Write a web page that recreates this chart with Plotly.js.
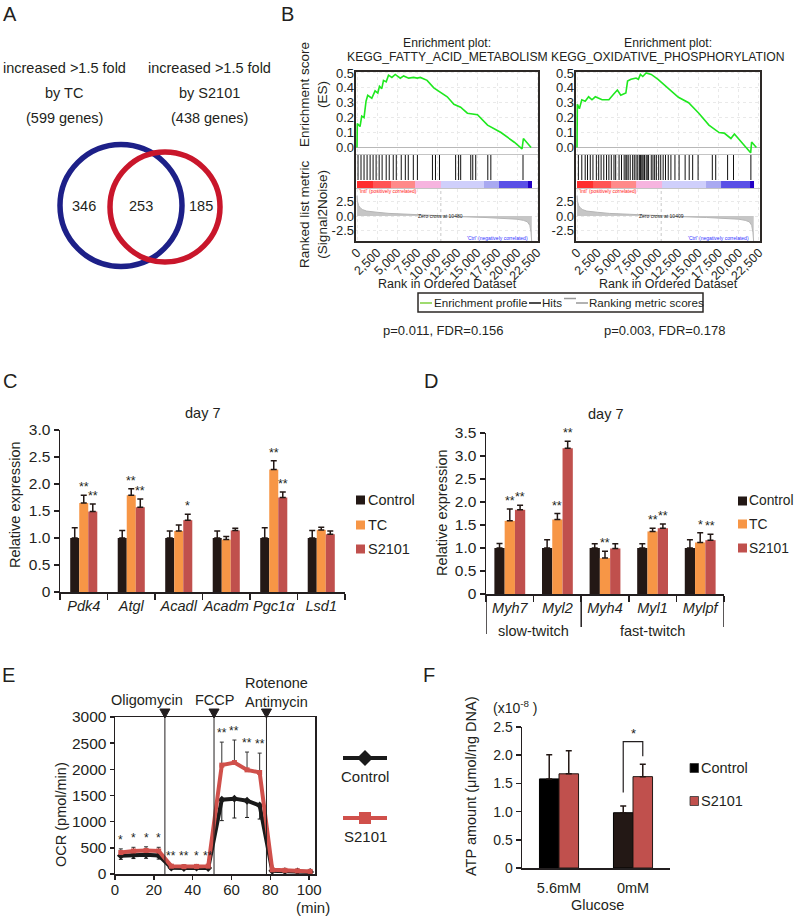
<!DOCTYPE html>
<html><head><meta charset="utf-8">
<script src="https://cdn.plot.ly/plotly-3.0.1.min.js"></script>
<style>html,body{margin:0;padding:0;background:#fff;}#chart{width:796px;height:917px;}</style>
</head><body><div id="chart"></div>
<script>
// ---------------- DATA ----------------
// Panel A (Venn)
const vennLeftLabel = ['increased >1.5 fold', 'by TC', '(599 genes)'];
const vennRightLabel = ['increased >1.5 fold', 'by S2101', '(438 genes)'];
const vennCounts = ['346', '253', '185'];

// Panel B (GSEA)
const gseaTitles = ['KEGG_FATTY_ACID_METABOLISM', 'KEGG_OXIDATIVE_PHOSPHORYLATION'];
const gseaStats = ['p=0.011, FDR=0.156', 'p=0.003, FDR=0.178'];
const zeroCross = [10480, 10409];
const faRank = [0, 40, 380, 590, 880, 1130, 1340, 1850, 2260, 2600, 2810, 3100, 3310, 3650, 3940, 4360, 4780, 5410, 5830, 6460, 7080, 7510, 7920, 8760, 9600, 10500, 11280, 12110, 12950, 13800, 15060, 16320, 18000, 19660, 20630, 20800, 21760];
const faES = [0, 0.16, 0.14, 0.21, 0.20, 0.31, 0.35, 0.33, 0.38, 0.365, 0.41, 0.395, 0.45, 0.44, 0.485, 0.47, 0.49, 0.465, 0.48, 0.465, 0.47, 0.465, 0.47, 0.45, 0.40, 0.37, 0.34, 0.29, 0.27, 0.23, 0.22, 0.15, 0.10, 0.035, -0.01, 0.06, 0.0];
const faHits = [130, 500, 880, 1260, 1640, 2010, 2390, 2770, 3140, 3650, 4030, 4530, 4910, 5530, 6040, 6410, 7040, 7550, 9430, 9810, 10310, 12330, 12700, 12960, 14220, 14470, 14840, 16350, 16730, 20750];
const oxRank = [0, 20, 40, 290, 590, 1010, 1430, 1850, 2260, 3100, 3940, 4570, 4990, 5410, 6040, 6250, 6670, 7300, 7590, 7840, 8130, 8550, 9180, 10020, 11280, 12540, 13800, 15060, 16310, 17570, 18200, 18620, 19030, 19460, 20500, 21470, 21590, 22180];
const oxES = [0, 0.19, 0.29, 0.26, 0.32, 0.31, 0.34, 0.32, 0.34, 0.32, 0.32, 0.36, 0.385, 0.35, 0.365, 0.445, 0.457, 0.466, 0.457, 0.49, 0.476, 0.50, 0.49, 0.457, 0.397, 0.337, 0.30, 0.23, 0.15, 0.10, 0.096, 0.077, 0.06, 0.09, 0.024, -0.036, 0.036, 0.0];
const oxHits = [170, 590, 1010, 1300, 1640, 1970, 2390, 2680, 2980, 3310, 3650, 3940, 4240, 4570, 4780, 5200, 5500, 5830, 6040, 6160, 6330, 6580, 6880, 7080, 7300, 7510, 7710, 7840, 7920, 8050, 8180, 8340, 8550, 8680, 8850, 9180, 9390, 9600, 9810, 10100, 10350, 10650, 10940, 11280, 11610, 12110, 12620, 13370, 13870, 14300, 14970, 16730, 17150, 18620, 19350, 21500];
const metricRank = [0, 50, 200, 400, 700, 1200, 2500, 4000, 6500, 8500, 10480, 13000, 16000, 18500, 20000, 20800, 21300, 21600, 21750, 21850];
const metricValue = [3.5, 2.6, 1.8, 1.4, 1.1, 0.85, 0.65, 0.45, 0.3, 0.15, 0, -0.12, -0.25, -0.4, -0.55, -0.75, -1.0, -1.6, -2.8, -4.6];
const colorBarEdges = [0, 2000, 4200, 7300, 10450, 15900, 17800, 21400, 21900];
const colorBarValues = [1, 0.85, 0.6, 0.3, -0.3, -0.5, -0.75, -1];

// Panel C
const cCats = ['Pdk4', 'Atgl', 'Acadl', 'Acadm', 'Pgc1α', 'Lsd1'];
const cControl = [1, 1, 1, 1, 1, 1];
const cControlErr = [0.19, 0.14, 0.13, 0.13, 0.19, 0.14];
const cTC = [1.65, 1.79, 1.13, 0.97, 2.27, 1.15];
const cTCErr = [0.14, 0.12, 0.11, 0.06, 0.16, 0.05];
const cS2101 = [1.49, 1.57, 1.33, 1.14, 1.75, 1.07];
const cS2101Err = [0.14, 0.15, 0.11, 0.04, 0.10, 0.06];
const cTCStars = ['**', '**', '', '', '**', ''];
const cS2101Stars = ['**', '**', '*', '', '**', ''];

// Panel D
const dCats = ['Myh7', 'Myl2', 'Myh4', 'Myl1', 'Mylpf'];
const dGroups = ['slow-twitch', 'fast-twitch'];
const dControl = [1, 1, 1, 1, 1];
const dControlErr = [0.10, 0.18, 0.09, 0.09, 0.18];
const dTC = [1.59, 1.62, 0.78, 1.36, 1.12];
const dTCErr = [0.26, 0.13, 0.15, 0.07, 0.21];
const dS2101 = [1.83, 3.17, 0.99, 1.43, 1.17];
const dS2101Err = [0.10, 0.15, 0.10, 0.09, 0.13];
const dTCStars = ['**', '**', '**', '**', '*'];
const dS2101Stars = ['**', '**', '', '**', '**'];

// Panel E
const eTime = [3, 9.5, 16, 22.5, 29, 35.5, 42, 48, 55, 61.5, 68, 74.5, 81, 87.5, 94, 100.5];
const eControl = [350, 365, 370, 355, 120, 115, 120, 115, 1420, 1440, 1400, 1310, 60, 55, 50, 40];
const eControlErr = [70, 70, 70, 70, 30, 30, 30, 30, 400, 370, 320, 260, 10, 10, 10, 10];
const eS2101 = [410, 440, 450, 440, 150, 140, 145, 150, 2080, 2130, 1990, 1940, 80, 70, 60, 50];
const eS2101Err = [70, 70, 70, 70, 30, 30, 30, 30, 440, 430, 340, 370, 10, 10, 10, 10];
const eStars = ['*', '*', '*', '*', '**', '**', '*', '**', '**', '**', '**', '**', '', '', '', ''];
const eInjectionTime = [25.7, 51, 78];
const eInjectionName = ['Oligomycin', 'FCCP', 'Rotenone<br>Antimycin'];

// Panel F
const fCats = ['5.6mM', '0mM'];
const fControl = [1.58, 0.98];
const fControlErr = [0.43, 0.12];
const fS2101 = [1.67, 1.62];
const fS2101Err = [0.41, 0.22];

// ---------------- HELPERS ----------------
const W = 796, H = 917;
const X = v => v / W, Y = v => 1 - v / H;
const FONT = '"Liberation Sans", Arial, Helvetica, sans-serif';
const INK = '#231f20';
const C_CTRL = '#231815', C_TC = '#f79646', C_S = '#c0504d';

function ann(text, x, y, o = {}) {
  const a = {text, x: X(x), y: Y(y), xref: 'paper', yref: 'paper', showarrow: false,
    xanchor: o.xanchor || 'center', yanchor: o.yanchor || 'middle', borderpad: 0,
    font: {family: FONT, size: o.size || 14.5, color: o.color || INK}};
  if (o.textangle !== undefined) a.textangle = o.textangle;
  return a;
}
function rect(x0, y0, x1, y1, line, fill) {
  return {type: 'rect', xref: 'paper', yref: 'paper', x0: X(x0), x1: X(x1), y0: Y(y1), y1: Y(y0),
    line: line || {width: 0}, fillcolor: fill || 'rgba(0,0,0,0)', layer: 'above'};
}
function seg(x0, y0, x1, y1, line) {
  return {type: 'line', xref: 'paper', yref: 'paper', x0: X(x0), x1: X(x1), y0: Y(y0), y1: Y(y1), line, layer: 'above'};
}

const traces = [];
const shapes = [];
const annotations = [];
const layout = {
  width: W, height: H, margin: {l: 0, r: 0, t: 0, b: 0}, autosize: false,
  paper_bgcolor: '#ffffff', plot_bgcolor: 'rgba(0,0,0,0)', showlegend: false,
  font: {family: FONT, color: INK, size: 13}, barmode: 'overlay'
};

// ---------------- PANEL LETTERS ----------------
[['A', 10, 14], ['B', 287, 14], ['C', 10, 381], ['D', 431, 381], ['E', 8, 675], ['F', 429, 675]]
  .forEach(l => annotations.push(ann(l[0], l[1], l[2], {size: 20})));

// ---------------- PANEL A ----------------
vennLeftLabel.forEach((t, i) => annotations.push(ann(t, 64, 68 + 25 * i)));
vennRightLabel.forEach((t, i) => annotations.push(ann(t, 209, 68 + 25 * i)));
shapes.push({type: 'circle', xref: 'paper', yref: 'paper', x0: X(60), x1: X(182), y0: Y(266.5), y1: Y(144.5), line: {color: '#1d2088', width: 5.5}});
shapes.push({type: 'circle', xref: 'paper', yref: 'paper', x0: X(110), x1: X(220), y0: Y(262), y1: Y(152), line: {color: '#c9162b', width: 5.5}});
[[84, 206], [141, 206], [201, 206]].forEach((p, i) => annotations.push(ann(vennCounts[i], p[0], p[1], {size: 14.5})));

// ---------------- PANEL B ----------------
const esColors = [[0, '#2200c4'], [0.125, '#5a50e6'], [0.25, '#a9a9f1'], [0.35, '#cfcffb'], [0.65, '#f6b4df'], [0.8, '#ff8a8a'], [0.925, '#ff5555'], [1, '#ff2e2e']];
function gsea(idx, xn, ys, x0, x1, rank, es, hits, title, stat) {
  const xa = xn.replace('x', 'xaxis');
  const ya = ys.map(y => y.replace('y', 'yaxis'));
  traces.push({type: 'scatter', mode: 'lines', x: metricRank, y: metricValue, xaxis: xn, yaxis: ys[3],
    fill: 'tozeroy', fillcolor: '#c6c6c6', line: {color: '#b5b5b5', width: 1}, hoverinfo: 'skip'});
  traces.push({type: 'heatmap', x: colorBarEdges, y: [0, 1], z: [colorBarValues], xaxis: xn, yaxis: ys[2],
    colorscale: esColors, zmin: -1, zmax: 1, showscale: false, hoverinfo: 'skip'});
  const hx = [], hy = [];
  hits.forEach(h => { hx.push(h, h, null); hy.push(0, 1, null); });
  traces.push({type: 'scatter', mode: 'lines', x: hx, y: hy, xaxis: xn, yaxis: ys[1],
    line: {color: '#111111', width: 1}, hoverinfo: 'skip', connectgaps: false});
  traces.push({type: 'scatter', mode: 'lines', x: rank, y: es, xaxis: xn, yaxis: ys[0],
    line: {color: '#1fe81f', width: 1.6}, hoverinfo: 'skip'});

  const grid = {showgrid: true, gridcolor: '#e9e9e9', griddash: 'dot', gridwidth: 1};
  layout[xa] = Object.assign({domain: [X(x0), X(x1)], range: [-250, 22750], anchor: ys[3],
    tickmode: 'linear', tick0: 0, dtick: 2500, tickformat: ',d', tickangle: -45, ticks: '',
    showline: false, zeroline: false, tickfont: {size: 12.5, color: INK}}, grid);
  layout[ya[0]] = Object.assign({domain: [Y(154), Y(71)], range: [-0.044, 0.513], anchor: xn,
    tickvals: [0, 0.1, 0.2, 0.3, 0.4, 0.5], tickformat: '.1f', ticks: '', showline: false,
    zeroline: true, zerolinecolor: '#b8b8b8', zerolinewidth: 1, tickfont: {size: 13, color: INK}}, grid);
  layout[ya[1]] = {domain: [Y(180), Y(155)], range: [0, 1], anchor: xn, visible: false};
  layout[ya[2]] = {domain: [Y(188), Y(181)], range: [0, 1], anchor: xn, visible: false};
  layout[ya[3]] = Object.assign({domain: [Y(242), Y(189)], range: [-4.48, 4.66], anchor: xn,
    tickvals: [2.5, 0, -2.5], ticktext: ['2.5', '0.0', '-2.5'], ticks: '', showline: false,
    zeroline: false, tickfont: {size: 13, color: INK}}, grid);

  shapes.push(seg(x0, 154.5, x1, 154.5, {color: '#c4c4c4', width: 1}));
  shapes.push(seg(x0, 188.5, x1, 188.5, {color: '#c4c4c4', width: 1}));
  shapes.push({type: 'line', xref: xn, yref: 'paper', x0: zeroCross[idx], x1: zeroCross[idx], y0: Y(242), y1: Y(189),
    line: {color: '#c8c8c8', width: 1, dash: 'dot'}});
  shapes.push(rect(x0, 71, x1, 242, {color: '#2d2926', width: 2}));

  const cx = (x0 + x1) / 2;
  annotations.push(ann('Enrichment plot:', cx, 43, {size: 12.2}));
  annotations.push(ann(title, cx, 57, {size: 12.2}));
  annotations.push({text: "'Intl' (positively correlated)", x: 0, y: Y(191.5), xref: xn, yref: 'paper', showarrow: false,
    xanchor: 'left', yanchor: 'middle', font: {family: FONT, size: 5, color: '#ff2020'}});
  annotations.push({text: 'Zero cross at ' + zeroCross[idx], x: zeroCross[idx], y: 0, xref: xn, yref: ys[3], showarrow: false,
    xanchor: 'center', yanchor: 'middle', font: {family: FONT, size: 5, color: '#222'}});
  annotations.push({text: "'Ctrl' (negatively correlated)", x: 17500, y: Y(238.5), xref: xn, yref: 'paper', showarrow: false,
    xanchor: 'center', yanchor: 'middle', font: {family: FONT, size: 5, color: '#3030ff'}});
  annotations.push(ann('Rank in Ordered Dataset', cx, 284, {size: 12.5}));
  annotations.push(ann(stat, cx - 4, 330, {size: 13}));
}
gsea(0, 'x', ['y', 'y2', 'y3', 'y4'], 355, 539, faRank, faES, faHits, gseaTitles[0], gseaStats[0]);
gsea(1, 'x2', ['y5', 'y6', 'y7', 'y8'], 575, 761, oxRank, oxES, oxHits, gseaTitles[1], gseaStats[1]);
annotations.push(ann('Enrichment score<br>(ES)', 313, 95, {size: 13.5, textangle: -90}));
annotations.push(ann('Ranked list metric<br>(Signal2Noise)', 313, 214, {size: 13.5, textangle: -90}));
// GSEA legend
shapes.push(rect(418, 293, 703, 312, {color: '#2d2926', width: 1.5}));
shapes.push(seg(420, 303, 432, 303, {color: '#7fcf3f', width: 1.5}));
annotations.push(ann('Enrichment profile', 433, 303, {size: 11.6, xanchor: 'left'}));
shapes.push(seg(529, 303, 541, 303, {color: '#111', width: 1.5}));
annotations.push(ann('Hits', 541, 303, {size: 11.6, xanchor: 'left'}));
shapes.push(seg(564, 298.5, 576, 298.5, {color: '#999', width: 1.5}));
shapes.push(seg(576, 303, 588, 303, {color: '#999', width: 1.5}));
annotations.push(ann('Ranking metric scores', 588, 303, {size: 11.6, xanchor: 'left'}));

// ---------------- BAR PANELS C & D ----------------
function bars(xn, yn, cats, series, width, offsets) {
  series.forEach((s, k) => {
    traces.push({type: 'bar', x: cats, y: s.v, xaxis: xn, yaxis: yn, width: width, offset: offsets[k],
      marker: {color: s.c, line: {width: 0}},
      error_y: {type: 'data', symmetric: false, array: s.e, arrayminus: s.e.map(() => 0), color: C_CTRL, thickness: 1.5, width: 3},
      hoverinfo: 'skip'});
    if (s.stars) s.stars.forEach((st, i) => {
      if (!st) return;
      annotations.push({text: st, x: i + offsets[k] + width / 2, y: s.v[i] + s.e[i], xref: xn, yref: yn,
        showarrow: false, xanchor: 'center', yanchor: 'bottom', yshift: 0, borderpad: 0,
        font: {family: FONT, size: 12.5, color: INK}});
    });
  });
}
function barAxes(xk, yk, xn, yn, x0, x1, yb, yt, ymax, ncat) {
  const tv = [], tt = [];
  for (let v = 0; v <= ymax + 1e-9; v += 0.5) { tv.push(v); tt.push(v === 0 ? '0' : v.toFixed(1)); }
  layout[xk] = {domain: [X(x0), X(x1)], range: [-0.5, ncat - 0.5], anchor: yn, type: 'category',
    showline: true, linecolor: INK, linewidth: 1.5, ticks: 'outside', tickson: 'boundaries', ticklen: 6,
    tickcolor: INK, tickwidth: 1.5, showgrid: false, zeroline: false, tickangle: 0,
    tickfont: {size: 14.5, color: INK, style: 'italic'}};
  layout[yk] = {domain: [Y(yb), Y(yt)], range: [0, ymax], anchor: xn, tickvals: tv, ticktext: tt,
    ticks: 'outside', ticklen: 5, tickcolor: INK, tickwidth: 1.5, showline: true, linecolor: INK, linewidth: 1.5,
    showgrid: false, zeroline: false, tickfont: {size: 15.5, color: INK}};
}
// C
barAxes('xaxis3', 'yaxis9', 'x3', 'y9', 60, 345, 592, 430, 3.0, cCats.length);
bars('x3', 'y9', cCats, [
  {v: cControl, e: cControlErr, c: C_CTRL},
  {v: cTC, e: cTCErr, c: C_TC, stars: cTCStars},
  {v: cS2101, e: cS2101Err, c: C_S, stars: cS2101Stars}], 0.19, [-0.285, -0.095, 0.095]);
annotations.push(ann('day 7', 202, 413));
annotations.push(ann('Relative expression', 15, 505, {textangle: -90}));
[['Control', C_CTRL, 500], ['TC', C_TC, 525], ['S2101', C_S, 549]].forEach(l => {
  shapes.push(rect(356, l[2] - 4.5, 365, l[2] + 4.5, {width: 0}, l[1]));
  annotations.push(ann(l[0], 367, l[2], {xanchor: 'left', size: 14.5}));
});
// D
barAxes('xaxis4', 'yaxis10', 'x4', 'y10', 486, 724, 594, 433, 3.5, dCats.length);
bars('x4', 'y10', dCats, [
  {v: dControl, e: dControlErr, c: C_CTRL},
  {v: dTC, e: dTCErr, c: C_TC, stars: dTCStars},
  {v: dS2101, e: dS2101Err, c: C_S, stars: dS2101Stars}], 0.216, [-0.324, -0.108, 0.108]);
annotations.push(ann('day 7', 605, 414));
annotations.push(ann('Relative expression', 442, 513, {textangle: -90}));
[['Control', C_CTRL, 501], ['TC', C_TC, 524], ['S2101', C_S, 548]].forEach(l => {
  shapes.push(rect(738, l[2] - 4.5, 747, l[2] + 4.5, {width: 0}, l[1]));
  annotations.push(ann(l[0], 748, l[2], {xanchor: 'left', size: 13.8}));
});
[[-0.5, 634], [1.5, 627], [4.5, 627]].forEach(b => shapes.push({type: 'line', xref: 'x4', yref: 'paper',
  x0: b[0], x1: b[0], y0: Y(594), y1: Y(b[1]), line: {color: INK, width: 1.5}}));
annotations.push({text: dGroups[0], x: 0.5, y: Y(631), xref: 'x4', yref: 'paper', showarrow: false,
  xanchor: 'center', yanchor: 'middle', font: {family: FONT, size: 14.5, color: INK}});
annotations.push({text: dGroups[1], x: 3, y: Y(631), xref: 'x4', yref: 'paper', showarrow: false,
  xanchor: 'center', yanchor: 'middle', font: {family: FONT, size: 14.5, color: INK}});

// ---------------- PANEL E ----------------
layout.xaxis5 = {domain: [X(115), X(315)], range: [0, 103], anchor: 'y11', tickvals: [0, 20, 40, 60, 80, 100],
  ticks: 'outside', ticklen: 4, tickcolor: INK, tickwidth: 1.5, showline: true, mirror: true, linecolor: INK, linewidth: 1.5,
  showgrid: false, zeroline: false, ticklabelstandoff: -3, tickfont: {size: 15, color: INK}};
layout.yaxis11 = {domain: [Y(874), Y(717)], range: [0, 3000], anchor: 'x5', tick0: 0, dtick: 500,
  ticks: 'outside', ticklen: 4, tickcolor: INK, tickwidth: 1.5, showline: true, mirror: true, linecolor: INK, linewidth: 1.5,
  showgrid: false, zeroline: false, tickfont: {size: 15.5, color: INK}};
traces.push({type: 'scatter', mode: 'lines+markers', x: eTime, y: eControl, xaxis: 'x5', yaxis: 'y11',
  line: {color: '#1a1a1a', width: 4}, marker: {symbol: 'diamond', size: 6, color: '#1a1a1a'},
  error_y: {type: 'data', symmetric: false, array: eControl.map(() => 0), arrayminus: eControlErr, color: '#1a1a1a', thickness: 1, width: 2},
  hoverinfo: 'skip'});
traces.push({type: 'scatter', mode: 'lines+markers', x: eTime, y: eS2101, xaxis: 'x5', yaxis: 'y11',
  line: {color: '#d0504b', width: 4}, marker: {symbol: 'square', size: 5, color: '#d0504b'},
  error_y: {type: 'data', symmetric: false, array: eS2101Err, arrayminus: eS2101.map(() => 0), color: '#333', thickness: 1, width: 2},
  hoverinfo: 'skip'});
eStars.forEach((st, i) => {
  if (!st) return;
  annotations.push({text: st, x: eTime[i], y: eS2101[i] + eS2101Err[i], xref: 'x5', yref: 'y11', showarrow: false,
    xanchor: 'center', yanchor: 'bottom', yshift: 1, borderpad: 0, font: {family: FONT, size: 12, color: INK}});
});
eInjectionTime.forEach(t => {
  shapes.push({type: 'line', xref: 'x5', yref: 'paper', x0: t, x1: t, y0: Y(874), y1: Y(717), line: {color: INK, width: 1}});
  shapes.push({type: 'path', xref: 'x5', yref: 'paper',
    path: `M ${t - 2.6},${Y(709)} L ${t + 2.6},${Y(709)} L ${t},${Y(718)} Z`, fillcolor: INK, line: {color: INK, width: 1}});
});
annotations.push(ann(eInjectionName[0], 147, 700));
annotations.push(ann(eInjectionName[1], 214, 700));
annotations.push(ann(eInjectionName[2], 276, 692));
annotations.push(ann('OCR (pmol/min)', 61, 815, {textangle: -90}));
annotations.push(ann('(min)', 313, 907, {size: 15}));
// E legend
shapes.push(seg(343, 758, 387, 758, {color: '#1a1a1a', width: 4}));
shapes.push({type: 'path', xref: 'paper', yref: 'paper',
  path: `M ${X(365)},${Y(750)} L ${X(373)},${Y(758)} L ${X(365)},${Y(766)} L ${X(357)},${Y(758)} Z`, fillcolor: '#1a1a1a', line: {width: 0}});
annotations.push(ann('Control', 365, 776, {size: 15}));
shapes.push(seg(343, 818, 387, 818, {color: '#d0504b', width: 4}));
shapes.push(rect(359, 812, 371, 824, {width: 0}, '#d0504b'));
annotations.push(ann('S2101', 365, 836, {size: 15}));

// ---------------- PANEL F ----------------
layout.xaxis6 = {domain: [X(522), X(670)], range: [-0.5, 1.5], anchor: 'y12', type: 'category',
  showline: true, linecolor: INK, linewidth: 1.5, ticks: 'outside', ticklen: 6, tickcolor: 'rgba(0,0,0,0)',
  showgrid: false, zeroline: false, tickangle: 0, tickfont: {size: 14.5, color: INK}};
layout.yaxis12 = {domain: [Y(868), Y(727)], range: [0, 2.5], anchor: 'x6',
  tickvals: [0, 0.5, 1, 1.5, 2, 2.5], ticktext: ['0', '0.5', '1.0', '1.5', '2.0', '2.5'],
  ticks: 'outside', ticklen: 5, tickcolor: INK, tickwidth: 1.5, showline: true, linecolor: INK, linewidth: 1.5,
  showgrid: false, zeroline: false, tickfont: {size: 14, color: INK}};
const fW = 0.264;
traces.push({type: 'bar', x: fCats, y: fControl, xaxis: 'x6', yaxis: 'y12', width: fW, offset: -fW,
  marker: {color: ['#000000', C_CTRL], line: {color: '#000', width: 1}},
  error_y: {type: 'data', symmetric: false, array: fControlErr, arrayminus: fControl.map(() => 0), color: C_CTRL, thickness: 1.5, width: 3},
  hoverinfo: 'skip'});
traces.push({type: 'bar', x: fCats, y: fS2101, xaxis: 'x6', yaxis: 'y12', width: fW, offset: 0,
  marker: {color: C_S, line: {color: C_CTRL, width: 1}},
  error_y: {type: 'data', symmetric: false, array: fS2101Err, arrayminus: fS2101.map(() => 0), color: C_CTRL, thickness: 1.5, width: 3},
  hoverinfo: 'skip'});
// significance bracket for 0mM
{
  const xl = 1 - fW / 2, xr = 1 + fW / 2;
  const yl = fControl[1] + fControlErr[1] + 0.24, yr = fS2101[1] + fS2101Err[1] + 0.14, yt = fS2101[1] + fS2101Err[1] + 0.4;
  shapes.push({type: 'path', xref: 'x6', yref: 'y12', path: `M ${xl},${yl} L ${xl},${yt} L ${xr},${yt} L ${xr},${yr}`,
    line: {color: INK, width: 1.2}});
  annotations.push({text: '*', x: 1, y: yt, xref: 'x6', yref: 'y12', showarrow: false, xanchor: 'center', yanchor: 'bottom',
    yshift: 0, borderpad: 0, font: {family: FONT, size: 13, color: INK}});
}
annotations.push(ann('(x10<sup>-8</sup> )', 515, 707, {size: 14}));
annotations.push(ann('ATP amount (μmol/ng DNA)', 471, 787, {textangle: -90}));
annotations.push(ann('Glucose', 597, 905));
[['Control', '#000000', 768], ['S2101', C_S, 801]].forEach(l => {
  shapes.push(rect(690, l[2] - 4.5, 698.5, l[2] + 4.5, {color: '#333', width: 0.8}, l[1]));
  annotations.push(ann(l[0], 700, l[2], {xanchor: 'left'}));
});

layout.shapes = shapes;
layout.annotations = annotations;
Plotly.newPlot('chart', traces, layout, {staticPlot: true, displayModeBar: false});
</script>
</body></html>
